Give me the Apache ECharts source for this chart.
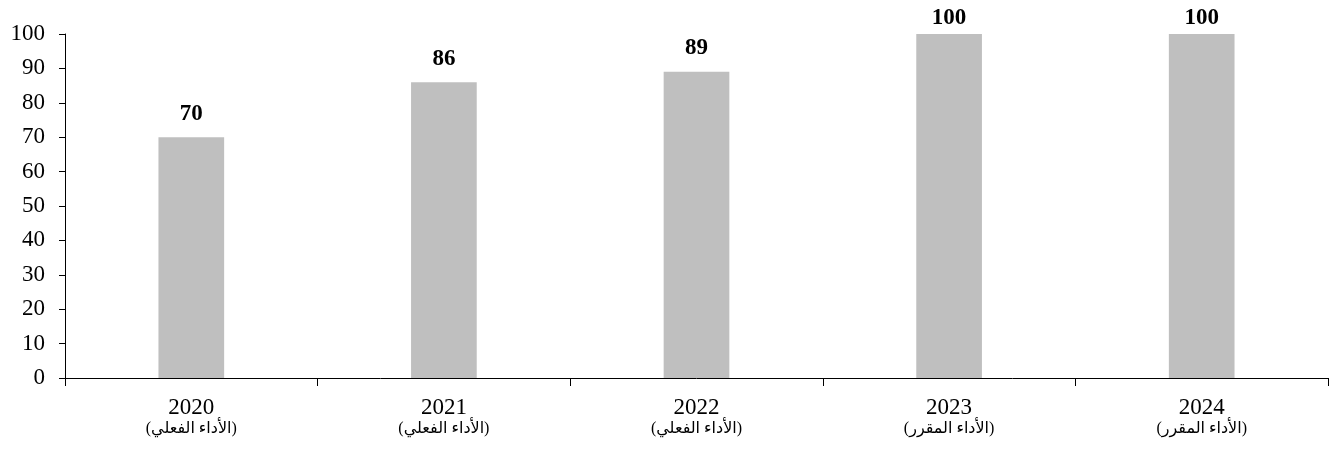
<!DOCTYPE html>
<html>
<head>
<meta charset="utf-8">
<script src="https://cdn.jsdelivr.net/npm/echarts@6/dist/echarts.min.js"></script>
<style>
html,body{margin:0;padding:0;background:#fff;}
#chart{width:1332px;height:450px;}
</style>
</head>
<body>
<div id="chart"></div>
<script>
const years = ['2020', '2021', '2022', '2023', '2024'];
const statusLabels = ['(الأداء الفعلي)', '(الأداء الفعلي)', '(الأداء الفعلي)', '(الأداء المقرر)', '(الأداء المقرر)'];
const values = [70, 86, 89, 100, 100];
const yMin = 0, yMax = 100, yStep = 10;

const FONT = '"Liberation Serif", "Times New Roman", "DejaVu Sans", serif';
const categories = years.map((y, i) => y + '\n' + statusLabels[i]);

const chart = echarts.init(document.getElementById('chart'), null, {renderer: 'canvas'});
chart.setOption({
  animation: false,
  backgroundColor: '#ffffff',
  grid: {left: 65, right: 4, top: 34, bottom: 72, containLabel: false},
  xAxis: {
    type: 'category',
    data: categories,
    axisLine: {show: true, lineStyle: {color: '#000', width: 1}},
    axisTick: {show: true, alignWithLabel: false, length: 8, lineStyle: {color: '#000'}},
    axisLabel: {
      color: '#000', fontFamily: FONT, fontSize: 23, lineHeight: 21, margin: 19,
      formatter: function (v) {
        const parts = v.split('\n');
        return '{y|' + parts[0] + '}\n{a|' + parts[1] + '}';
      },
      rich: {
        y: {fontFamily: FONT, fontSize: 23, lineHeight: 21, color: '#000'},
        a: {fontFamily: FONT, fontSize: 16, lineHeight: 21, color: '#000'}
      }
    }
  },
  yAxis: {
    type: 'value',
    min: yMin, max: yMax, interval: yStep,
    axisLine: {show: true, lineStyle: {color: '#000', width: 1}},
    axisTick: {show: true, length: 6, lineStyle: {color: '#000'}},
    splitLine: {show: false},
    axisLabel: {color: '#000', fontFamily: FONT, fontSize: 23, margin: 20}
  },
  series: [{
    type: 'bar',
    data: values,
    barWidth: '26%',
    itemStyle: {color: '#bfbfbf'},
    label: {
      show: true, position: 'top', distance: 12,
      color: '#000', fontFamily: FONT, fontSize: 23, fontWeight: 'bold'
    },
    labelLayout: function (p) {
      const minTop = 7;
      const top = p.labelRect.y;
      return top < minTop ? {dy: minTop - top} : {};
    }
  }]
});
</script>
</body>
</html>
